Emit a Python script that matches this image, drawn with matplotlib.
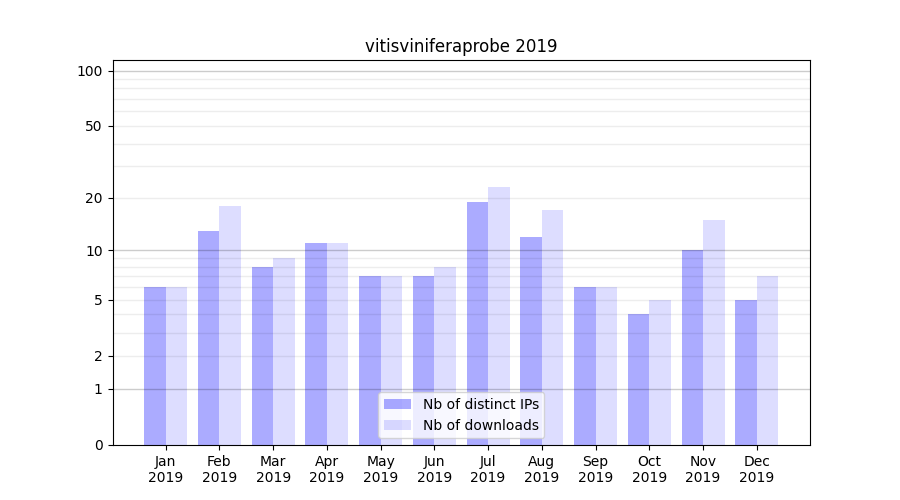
import numpy as np
import matplotlib
matplotlib.use('Agg')
import matplotlib.pyplot as plt

months = ['Jan', 'Feb', 'Mar', 'Apr', 'May', 'Jun', 'Jul', 'Aug', 'Sep', 'Oct', 'Nov', 'Dec']
year = '2019'
distinct_ips = [6, 13, 8, 11, 7, 7, 19, 12, 6, 4, 10, 5]
downloads = [6, 18, 9, 11, 7, 8, 23, 17, 6, 5, 15, 7]
yticks = [0, 1, 2, 5, 10, 20, 50, 100]
major_grid = [1, 10, 100]
minor_grid = [2, 3, 4, 5, 6, 7, 8, 9, 20, 30, 40, 50, 60, 70, 80, 90]


def fwd(y):
    return np.log10(1 + np.clip(y, 0, None))


def inv(y):
    return 10**y - 1


fig, ax = plt.subplots(figsize=(9, 5), dpi=100)
x = np.arange(len(months))
w = 0.4

ax.bar(x - w/2, distinct_ips, w, color='blue', alpha=0.33, label='Nb of distinct IPs')
ax.bar(x + w/2, downloads, w, color='blue', alpha=0.133, label='Nb of downloads')

ax.set_yscale('function', functions=(fwd, inv))
ax.set_ylim(0, 114)
ax.set_yticks(yticks)
ax.set_yticklabels([str(v) for v in yticks])
ax.yaxis.set_minor_locator(matplotlib.ticker.NullLocator())

for g in major_grid:
    ax.axhline(g, color='black', alpha=0.2, linewidth=1, zorder=3)
for g in minor_grid:
    ax.axhline(g, color='black', alpha=0.07, linewidth=1, zorder=3)

ax.set_xticks(x)
ax.set_xticklabels([m + '\n' + year for m in months])
ax.set_title('vitisviniferaprobe 2019')
leg = ax.legend(loc='lower center')
leg.set_zorder(5)

plt.savefig('out.png')
